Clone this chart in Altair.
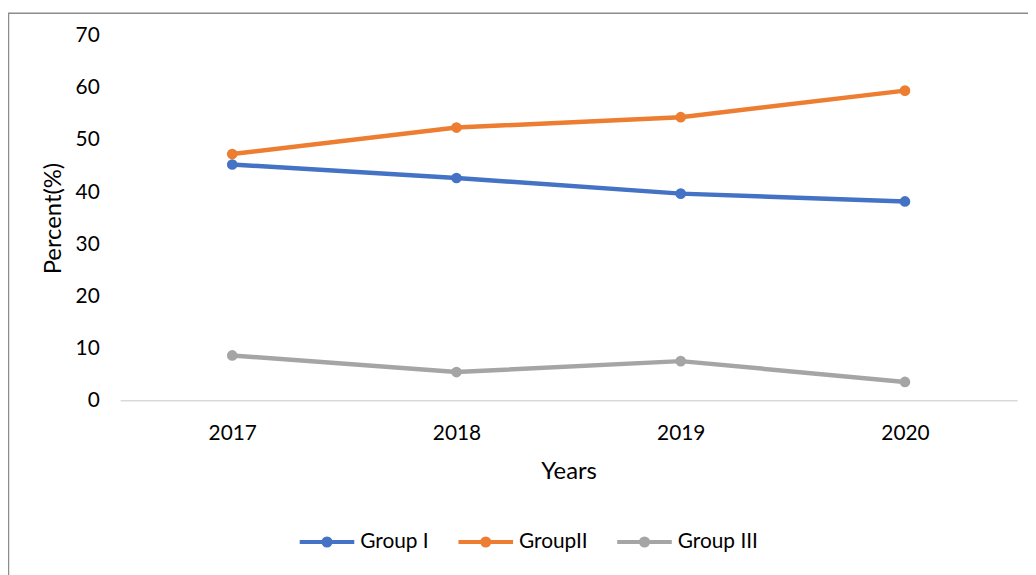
import altair as alt
import pandas as pd

years = ["2017", "2018", "2019", "2020"]
group_names = ["Group I", "GroupII", "Group III"]
group_1 = [45.3, 42.7, 39.7, 38.2]
group_2 = [47.3, 52.4, 54.4, 59.5]
group_3 = [8.6, 5.4, 7.5, 3.5]
colors = ["#4472C4", "#ED7D31", "#A5A5A5"]
y_ticks = [0, 10, 20, 30, 40, 50, 60, 70]

rows = []
for name, vals in zip(group_names, [group_1, group_2, group_3]):
    for yr, v in zip(years, vals):
        rows.append({"Year": yr, "Group": name, "Value": v})
df = pd.DataFrame(rows)

W, H = 904, 367
FONT = "Lato"

legend_path = ("M-1,0L1,0"
               "M0.13,0A0.13,0.13 0 1,1 -0.13,0A0.13,0.13 0 1,1 0.13,0Z")

lines = alt.Chart(df).mark_line(
    strokeWidth=4.5,
    point=alt.OverlayMarkDef(filled=True, size=115, opacity=1),
).encode(
    x=alt.X("Year:O", scale=alt.Scale(type="point", padding=0.5),
            axis=alt.Axis(title="Years", labelAngle=0, ticks=False,
                          domainColor="#D9D9D9", domainWidth=1.5,
                          labelFontSize=21, labelPadding=23,
                          titleFontSize=24, titleFontWeight="normal",
                          titlePadding=16, labelColor="#000000",
                          titleColor="#000000", labelFont=FONT, titleFont=FONT)),
    y=alt.Y("Value:Q", scale=alt.Scale(domain=[0, 70], nice=False),
            axis=alt.Axis(title="Percent(%)", values=y_ticks, grid=False,
                          domain=False, ticks=False, labelFontSize=21,
                          labelPadding=21, titleFontSize=24,
                          titleFontWeight="normal", titlePadding=10,
                          labelColor="#000000", titleColor="#000000",
                          labelFont=FONT, titleFont=FONT)),
    color=alt.Color("Group:N", scale=alt.Scale(domain=group_names, range=colors),
                    sort=group_names,
                    legend=alt.Legend(title=None, orient="none", direction="horizontal",
                                      legendX=179, legendY=480,
                                      symbolType=legend_path, symbolSize=3025,
                                      symbolStrokeWidth=4, labelFontSize=21,
                                      labelFont=FONT, labelColor="#000000",
                                      labelOffset=4, columnPadding=21)),
)

border = alt.Chart(pd.DataFrame({"b": [0]})).mark_rect(
    fill=None, stroke="#8C8C8C", strokeWidth=1.5
).encode(
    x=alt.value(-112.5), x2=alt.value(W + 40),
    y=alt.value(-23), y2=alt.value(H + 240),
)

chart = alt.layer(border, lines).properties(
    width=W, height=H,
    autosize=alt.AutoSizeParams(type="none"),
    padding={"left": 113, "top": 26, "right": 11, "bottom": 174},
).configure_view(stroke=None)

chart.save("out.html", embed_options={"renderer": "svg", "actions": False})
